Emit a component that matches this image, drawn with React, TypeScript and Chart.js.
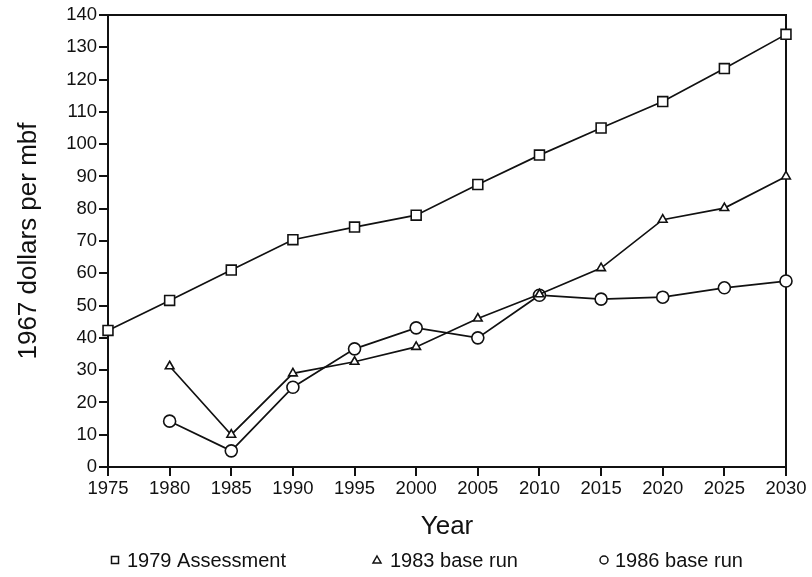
import React, { useEffect, useRef } from "react";
import { Chart, registerables } from "chart.js";

Chart.register(...registerables);

const years = ["1975", "1980", "1985", "1990", "1995", "2000", "2005", "2010", "2015", "2020", "2025", "2030"];
const assessment1979 = [42.3, 51.6, 61, 70.4, 74.3, 78, 87.5, 96.6, 105, 113.2, 123.4, 134];
const baseRun1983 = [null, 31.2, 10, 29, 32.6, 37.2, 46, 53.5, 61.6, 76.6, 80.2, 90];
const baseRun1986 = [null, 14.2, 5, 24.7, 36.6, 43.1, 40, 53.2, 52, 52.6, 55.5, 57.6];
const seriesLabels = ["1979 Assessment", "1983 base run", "1986 base run"];
const yTitle = "1967 dollars per mbf";
const xTitle = "Year";

const FONT = "'Liberation Sans', Arial, Helvetica, sans-serif";

const framePlugin = {
  id: "frame",
  beforeDatasetsDraw(chart: any) {
    const { ctx, chartArea } = chart;
    ctx.save();
    ctx.strokeStyle = "#111";
    ctx.lineWidth = 2;
    ctx.strokeRect(chartArea.left, chartArea.top, chartArea.right - chartArea.left, chartArea.bottom - chartArea.top);
    ctx.restore();
  },
};

const legendPlugin = {
  id: "customLegend",
  afterDraw(chart: any) {
    const { ctx } = chart;
    const items = [
      { mx: 115, tx: 127, style: "rect" },
      { mx: 377, tx: 390, style: "triangle" },
      { mx: 604, tx: 615, style: "circle" },
    ];
    const y = 560;
    ctx.save();
    chart.data.datasets.forEach((ds: any, i: number) => {
      const it = items[i];
      ctx.strokeStyle = "#111";
      ctx.fillStyle = "#fff";
      ctx.lineWidth = 1.5;
      ctx.beginPath();
      if (it.style === "rect") {
        ctx.rect(it.mx - 3.5, y - 3.5, 7, 7);
      } else if (it.style === "triangle") {
        ctx.moveTo(it.mx, y - 4);
        ctx.lineTo(it.mx + 4, y + 3);
        ctx.lineTo(it.mx - 4, y + 3);
        ctx.closePath();
      } else {
        ctx.arc(it.mx, y, 4, 0, Math.PI * 2);
      }
      ctx.fill();
      ctx.stroke();
      ctx.fillStyle = "#111";
      ctx.font = `20px ${FONT}`;
      ctx.textBaseline = "middle";
      ctx.textAlign = "left";
      ctx.fillText(ds.label, it.tx, y + 1);
    });
    ctx.restore();
  },
};

export default function App() {
  const ref = useRef<HTMLCanvasElement | null>(null);

  useEffect(() => {
    if (!ref.current) return;
    const common = {
      borderColor: "#111",
      borderWidth: 1.7,
      pointBorderColor: "#111",
      pointBackgroundColor: "#fff",
      pointBorderWidth: 1.6,
      fill: false,
      tension: 0,
    };
    const chart = new Chart(ref.current, {
      type: "line",
      data: {
        labels: years,
        datasets: [
          { ...common, label: seriesLabels[0], data: assessment1979, pointStyle: "rect", pointRadius: 7 },
          { ...common, label: seriesLabels[1], data: baseRun1983, pointStyle: "triangle", pointRadius: 5 },
          { ...common, label: seriesLabels[2], data: baseRun1986, pointStyle: "circle", pointRadius: 6 },
        ],
      },
      options: {
        responsive: false,
        animation: false,
        layout: { padding: { top: 15, right: 26, left: 0, bottom: 0 } },
        plugins: { legend: { display: false }, tooltip: { enabled: false } },
        scales: {
          x: {
            type: "category",
            offset: false,
            afterFit: (s: any) => { s.height = 110; },
            grid: { drawOnChartArea: false, drawTicks: true, tickLength: 9, color: "#111", lineWidth: 2 },
            border: { display: true, color: "#111", width: 2 },
            ticks: { color: "#111", font: { size: 18.5, family: FONT }, padding: 2, maxRotation: 0, autoSkip: false },
            title: { display: true, text: xTitle, color: "#111", font: { size: 26, family: FONT }, padding: { bottom: 35, top: 0 } },
          },
          y: {
            min: 0,
            max: 140,
            afterFit: (s: any) => { s.width = 108; },
            grid: { drawOnChartArea: false, drawTicks: true, tickLength: 9, color: "#111", lineWidth: 2 },
            border: { display: true, color: "#111", width: 2 },
            ticks: { stepSize: 10, color: "#111", font: { size: 18.5, family: FONT }, padding: 2 },
            title: { display: true, text: yTitle, color: "#111", font: { size: 26, family: FONT }, padding: { top: 13, bottom: 0 } },
          },
        },
      },
      plugins: [framePlugin, legendPlugin],
    } as any);
    return () => chart.destroy();
  }, []);

  return (
    <div style={{ position: "absolute", left: 0, top: 0, width: 812, height: 577, background: "#fff" }}>
      <canvas ref={ref} width={812} height={577} />
    </div>
  );
}
